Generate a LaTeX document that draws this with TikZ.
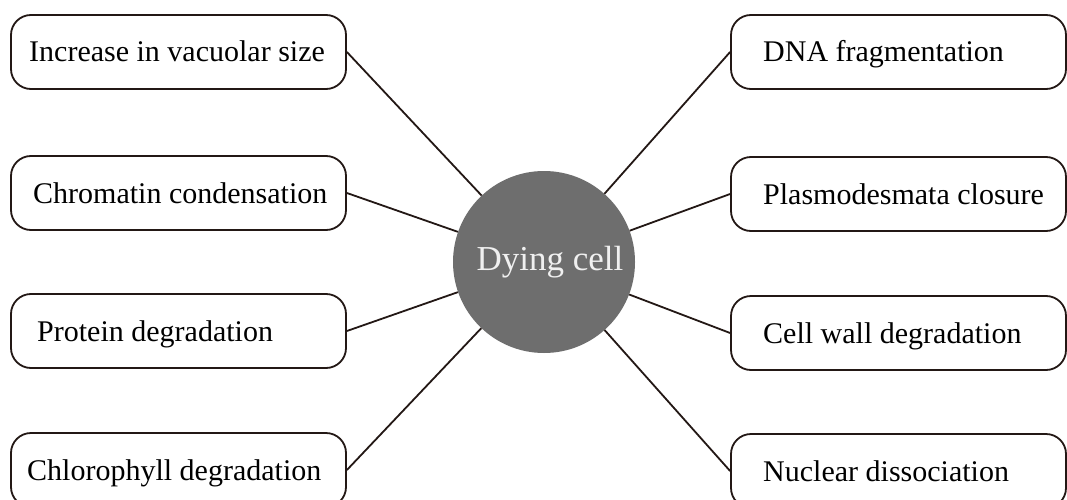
\documentclass[tikz,border=0pt]{standalone}
\usepackage{fontspec}
\setmainfont{Liberation Serif}
\begin{document}
\begin{tikzpicture}[x=1pt,y=-1pt,
  box/.style={draw=linec, line width=1.8pt, rounded corners=20pt, minimum width=335pt, minimum height=74pt, inner sep=0pt, fill=white},
  lbl/.style={anchor=base west, inner sep=0pt, font=\fontsize{30}{36}\selectfont, text=black},
  conn/.style={draw=linec, line width=1.8pt}]
\definecolor{linec}{HTML}{231815}
\definecolor{cellgray}{HTML}{6E6E6E}
\clip (0,0) rectangle (1067,500);
\fill[white] (0,0) rectangle (1067,500);
% centre
\node[circle, fill=cellgray, minimum size=182pt, inner sep=0pt] (c) at (544,262) {};
\node[anchor=base, inner sep=0pt, font=\fontsize{35}{42}\selectfont, text=white!94!black] (ct) at (550,270) {Dying cell};
% left boxes
\node[box] (b1) at (178.5,52) {};
\node[box] (b2) at (178.5,193) {};
\node[box] (b3) at (178.5,331) {};
\node[box] (b4) at (178.5,470) {};
% right boxes
\node[box] (r1) at (898.5,52) {};
\node[box] (r2) at (898.5,194) {};
\node[box] (r3) at (898.5,333) {};
\node[box] (r4) at (898.5,471) {};
% labels
\node[lbl] (t1) at (29,62) {Increase in vacuolar size};
\node[lbl] (t2) at (33,203) {Chromatin condensation};
\node[lbl] (t3) at (37,341) {Protein degradation};
\node[lbl] (t4) at (27,480) {Chlorophyll degradation};
\node[lbl] (u1) at (763,62) {DNA fragmentation};
\node[lbl] (u2) at (763,204) {Plasmodesmata closure};
\node[lbl] (u3) at (763,343) {Cell wall degradation};
\node[lbl] (u4) at (763,481) {Nuclear dissociation};
% connectors
\draw[conn] (b1.east) -- (c);
\draw[conn] (b2.east) -- (c);
\draw[conn] (b3.east) -- (c);
\draw[conn] (b4.east) -- (c);
\draw[conn] (r1.west) -- (c);
\draw[conn] (r2.west) -- (c);
\draw[conn] (r3.west) -- (c);
\draw[conn] (r4.west) -- (c);
\end{tikzpicture}
\end{document}
